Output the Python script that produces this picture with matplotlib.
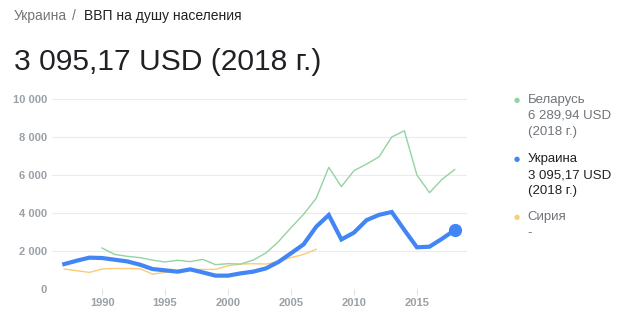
import matplotlib
matplotlib.use("Agg")
import matplotlib.pyplot as plt

# GDP per capita, USD
years_ua = list(range(1987, 2019))
ukraine = [1300, 1480, 1640, 1620, 1530, 1440, 1270, 1040, 970, 900,
           1020, 860, 690, 690, 810, 900, 1070, 1410, 1870, 2340,
           3270, 3891, 2600, 2960, 3620, 3900, 4050, 3100, 2185, 2218,
           2640, 3095.17]

years_by = list(range(1990, 2019))
belarus = [2150, 1810, 1710, 1640, 1510, 1410, 1500, 1430, 1550, 1270,
           1320, 1300, 1510, 1880, 2480, 3220, 3930, 4770, 6410, 5390,
           6230, 6580, 6970, 8010, 8340, 6000, 5070, 5780, 6289.94]

years_sy = list(range(1987, 2008))
syria = [1040, 950, 860, 1040, 1070, 1060, 1060, 770, 860, 960,
         1000, 1020, 1020, 1210, 1300, 1320, 1300, 1430, 1640, 1810,
         2080]

y_ticks = [0, 2000, 4000, 6000, 8000, 10000]
y_labels = ["0", "2 000", "4 000", "6 000", "8 000", "10 000"]
x_ticks = [1990, 1995, 2000, 2005, 2010, 2015]

BLUE = "#4285f4"
GREEN = "#93d3a2"
ORANGE = "#fbcb75"
GREY = "#70757a"
TICK_GREY = "#9aa0a6"
DARK = "#202124"
FONT = "Liberation Sans"

W, H = 638, 326
fig = plt.figure(figsize=(W / 100, H / 100), dpi=100)
fig.patch.set_facecolor("white")

# header
fig.text(14 / W, 1 - 16 / H, "Украина", color=GREY, fontsize=10,
         va="center", ha="left", family=FONT)
fig.text(72 / W, 1 - 16 / H, "/", color=GREY, fontsize=10,
         va="center", ha="left", family=FONT)
fig.text(84 / W, 1 - 16 / H, "ВВП на душу населения", color=DARK,
         fontsize=10, va="center", ha="left", family=FONT)
fig.text(14 / W, 1 - 62 / H, "3 095,17 USD (2018 г.)", color=DARK,
         fontsize=21.6, va="center", ha="left", family=FONT)

# plot area
left, right = 51.7, 467.3
top, bottom = 99.3, 288.7
ax = fig.add_axes([left / W, 1 - bottom / H, (right - left) / W, (bottom - top) / H])
ax.set_xlim(1986, 2019)
ax.set_ylim(0, 10000)
for s in ax.spines.values():
    s.set_visible(False)
ax.set_yticks(y_ticks)
ax.set_yticklabels(y_labels)
ax.set_xticks(x_ticks)
ax.grid(axis="y", color="#ebebeb", linewidth=0.8)
ax.tick_params(axis="y", length=0, pad=3.5, labelsize=8, labelcolor=TICK_GREY)
ax.tick_params(axis="x", length=4, width=0.7, color="#e0e0e0", pad=3,
               labelsize=8, labelcolor=TICK_GREY)
for lab in ax.get_xticklabels() + ax.get_yticklabels():
    lab.set_family(FONT)
    lab.set_fontweight("bold")

ax.plot(years_sy, syria, color=ORANGE, linewidth=1.0, clip_on=False)
ax.plot(years_by, belarus, color=GREEN, linewidth=1.0, clip_on=False)
ax.plot(years_ua, ukraine, color=BLUE, linewidth=3.0, clip_on=False,
        solid_joinstyle="miter")
ax.plot(years_ua[-1:], ukraine[-1:], "o", color=BLUE, markersize=8.5,
        clip_on=False)

# legend
legend = [
    (GREEN, ["Беларусь", "6 289,94 USD", "(2018 г.)"], GREY, 100),
    (BLUE, ["Украина", "3 095,17 USD", "(2018 г.)"], DARK, 159),
    (ORANGE, ["Сирия", "-"], GREY, 217),
]
for color, lines, tcolor, y0 in legend:
    fig.text(516.7 / W, 1 - y0 / H, "●", color=color, fontsize=5,
             ha="center", va="center")
    for i, line in enumerate(lines):
        fig.text(527.5 / W, 1 - (y0 + 16 * i) / H, line, color=tcolor,
                 fontsize=9.5, ha="left", va="center", family=FONT)

fig.savefig("out.png", dpi=100)
